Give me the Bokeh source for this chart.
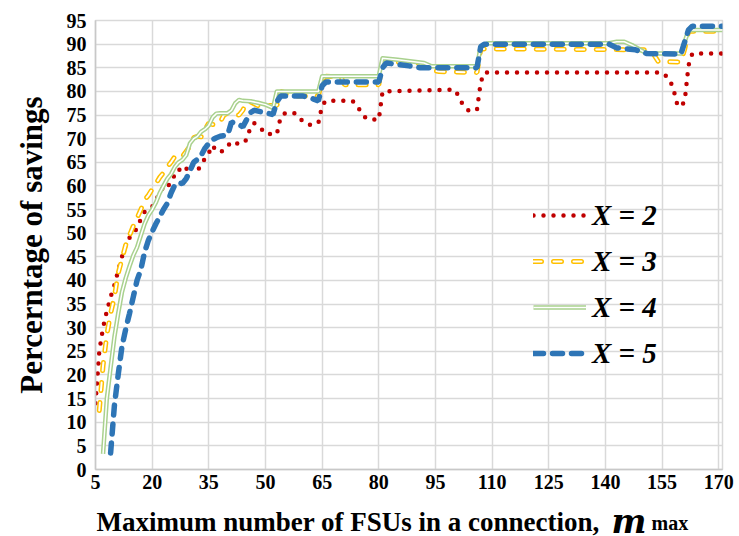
from bokeh.plotting import figure
from bokeh.layouts import column
from bokeh.models import Range1d, FixedTicker, Legend, LegendItem
from bokeh.core.properties import value
from bokeh.embed import file_html
from bokeh.resources import INLINE

# ---- data ----
x_ticks = [5, 20, 35, 50, 65, 80, 95, 110, 125, 140, 155, 170]
y_ticks = list(range(0, 100, 5))

x2 = [5, 6, 7, 8, 9, 10, 11, 12, 13, 14, 15, 16, 17, 18, 19, 20, 21, 22, 23, 24, 25, 26, 27, 28, 29, 30,
      31, 32, 33, 34, 35, 36, 37, 38, 39, 40, 41, 42, 43, 44, 45, 46, 47, 48, 49, 50, 53, 54, 55, 56, 58,
      59, 60, 61, 62, 64, 65, 66, 73, 74, 75, 76, 77, 80, 81, 100, 101, 102, 103, 104, 106, 107, 108,
      155, 156, 157, 158, 159, 160, 161, 162, 163, 171]
y2 = [14, 25, 30, 33.5, 36.5, 39, 42, 45, 47.5, 49, 50, 51, 53, 54.5, 55.2, 55.6, 57, 58.5, 59.8, 59.5,
      61.2, 62.3, 63.6, 62.8, 63.5, 64.9, 64.4, 63.3, 64.3, 65.9, 67, 68.6, 67.3, 67.2, 67.5, 68.4, 69.4,
      69.2, 68.8, 69, 69.8, 72.3, 73.3, 72.7, 72, 71, 70.9, 74.5, 75.3, 75.6, 75.3, 74.5, 73.5, 73.1, 72.9,
      73.3, 77, 78, 78, 77.3, 76, 74.8, 74.1, 74, 80, 80.4, 79.2, 77.6, 76.5, 75.8, 76.1, 82, 84,
      84, 83.3, 82.5, 80.5, 77.3, 76.7, 78, 85.5, 88, 88]

x3 = [6, 7, 8, 9, 10, 11, 12, 13, 14, 15, 16, 17, 18, 19, 20, 21, 22, 23, 24, 25, 26, 27, 28, 29, 30,
      31, 32, 33, 34, 35, 36, 37, 38, 39, 40, 41, 42, 43, 44, 45, 46, 47, 48, 53, 54, 55, 56, 64, 65, 66,
      70, 71, 80, 81, 90, 92, 94, 96, 106, 107, 152, 154, 160, 161, 162, 171]
y3 = [12.5, 22, 28.5, 33, 36.5, 41.5, 44.5, 47.5, 49.5, 51.5, 53.2, 55, 57, 58, 59.3, 60.5, 61.8, 62.8,
      64, 65, 66.2, 66.6, 66.2, 67.3, 68.4, 70.2, 70.5, 70.4, 72, 73.3, 73, 72.8, 73.5, 75, 75.4, 75.2, 75,
      75, 76, 77.8, 77.8, 77.4, 77, 77, 80, 79.8, 79, 79, 82.5, 83.2, 83, 81.4, 81.4, 86.3, 86, 85.6, 84.5,
      84.2, 84, 89, 88.8, 86.3, 86.2, 89, 92.7, 92.7]

x4 = [7, 8, 9, 10, 11, 12, 13, 14, 15, 16, 17, 18, 19, 20, 21, 22, 23, 24, 25, 26, 27, 28, 29, 30, 31,
      32, 33, 34, 35, 36, 37, 38, 40, 41, 42, 43, 44, 46, 48, 50, 52, 53, 64, 65, 80, 81, 85, 92, 94, 106,
      107, 109, 141, 143, 145, 147, 151, 160, 162, 171]
y4 = [3.3, 15, 21.6, 28, 33, 37.5, 40.5, 43, 45.3, 47, 49.5, 52, 53.8, 55, 56.5, 58.5, 60, 61.5, 62.5,
      64, 65, 65.5, 66.5, 69, 70, 70.5, 71.5, 72, 72.8, 74.5, 75.3, 75.4, 75.4, 76, 77.5, 78.2, 78, 77.9,
      77.6, 77.2, 76.5, 80, 80, 83.2, 83.2, 87, 86.7, 86, 85.3, 85.3, 89.5, 90.2, 90.2, 90.5, 90.5, 89.8,
      88, 88, 93, 93]

x5 = [9, 10, 11, 12, 13, 14, 15, 16, 17, 18, 19, 20, 21, 22, 23, 24, 25, 26, 27, 28, 29, 30, 31, 32, 33,
      34, 35, 36, 37, 38, 40, 41, 43, 44, 45, 46, 47, 50, 52, 53, 54, 60, 62, 64, 65, 66, 80, 81, 82, 84,
      88, 91, 106, 107, 108, 141, 143, 148, 151, 160, 161, 162, 163, 171]
y5 = [3.5, 13.5, 20, 26, 29.7, 33, 36.5, 40, 42.3, 46, 48.5, 50.3, 52, 53.5, 55, 56.3, 58.5, 60.2, 60.7,
      60.5, 61.5, 63.2, 65, 65.6, 66.5, 68, 69, 69.8, 70.2, 70.5, 70.8, 73.5, 73, 72.5, 74, 75.5, 76, 75.5,
      75.1, 77.8, 79, 79, 78.6, 78, 81.2, 82, 82, 85, 86, 85.8, 85.4, 85, 85, 89.5, 90, 90, 89.2, 88.8, 88,
      87.9, 90.5, 93, 93.8, 93.8]

labels = ["X = 2", "X = 3", "X = 4", "X = 5"]
x_title = ["Maximum number of FSUs in a connection,", "m", "max"]

FONT = "Liberation Serif"

p = figure(width=739, height=498, output_backend="svg", toolbar_location=None,
           x_range=Range1d(5, 171), y_range=Range1d(0, 95),
           min_border_left=95, min_border_right=17, min_border_top=20, min_border_bottom=29)

p.outline_line_color = "#d9d9d9"
p.outline_line_width = 1.5

p.xaxis.ticker = FixedTicker(ticks=x_ticks)
p.yaxis.ticker = FixedTicker(ticks=y_ticks)
p.xgrid.ticker = FixedTicker(ticks=x_ticks)
p.ygrid.ticker = FixedTicker(ticks=y_ticks)
p.grid.grid_line_color = "#d9d9d9"
p.grid.grid_line_width = 1.5

for ax in (p.xaxis, p.yaxis):
    ax.major_label_text_font = FONT
    ax.major_label_text_font_style = "bold"
    ax.major_label_text_font_size = "20px"
    ax.major_label_text_color = "black"
    ax.major_tick_line_color = None
    ax.major_tick_out = 0
    ax.major_tick_in = 0
    ax.minor_tick_line_color = None
    ax.minor_tick_out = 0
    ax.axis_line_color = "#c8c8c8"
    ax.axis_line_width = 1.5

p.xaxis.major_label_standoff = 5
p.yaxis.major_label_standoff = 9

p.yaxis.axis_label = "Percerntage of savings"
p.yaxis.axis_label_text_font = FONT
p.yaxis.axis_label_text_font_style = "bold"
p.yaxis.axis_label_text_font_size = "31px"
p.yaxis.axis_label_text_color = "black"
p.yaxis.axis_label_standoff = 15

r2 = p.line(x2, y2, line_color="#c00000", line_width=4.5, line_dash="0 10", line_cap="round")
r3o = p.line(x3, y3, line_color="#ffc000", line_width=5, line_dash="8 12", line_cap="round")
r3i = p.line(x3, y3, line_color="white", line_width=2, line_dash="8 12", line_cap="round")
r4o = p.line(x4, y4, line_color="#a9d18e", line_width=4.5, line_join="round")
r4i = p.line(x4, y4, line_color="white", line_width=1.5, line_join="round")
r5 = p.line(x5, y5, line_color="#2e75b6", line_width=5.5, line_dash="10 9", line_cap="round")

legend = Legend(items=[
    LegendItem(label=labels[0], renderers=[r2]),
    LegendItem(label=labels[1], renderers=[r3o, r3i]),
    LegendItem(label=labels[2], renderers=[r4o, r4i]),
    LegendItem(label=labels[3], renderers=[r5]),
], location=(438, 96), glyph_width=53, glyph_height=40, label_height=40, spacing=6,
    padding=0, margin=0, label_standoff=6, background_fill_alpha=0, border_line_alpha=0,
    label_text_font=FONT, label_text_font_style="bold italic", label_text_font_size="29px",
    label_text_color="black")
p.add_layout(legend)

# ---- x-axis title strip (mixed styles); its frame is aligned with the main frame (95..722 px) ----
t = figure(width=739, height=38, output_backend="svg", toolbar_location=None, title=None,
           x_range=Range1d(95, 722), y_range=Range1d(0, 38),
           min_border_left=95, min_border_right=17, min_border_top=0, min_border_bottom=0,
           x_axis_type=None, y_axis_type=None)
t.outline_line_color = None
t.grid.visible = False
t.text(x=[96], y=[15], text=[x_title[0]], text_font=value(FONT), text_font_style="bold",
       text_font_size="27px", text_color="black", text_baseline="alphabetic")
t.text(x=[611], y=[15], text=[x_title[1]], text_font=value("DejaVu Serif"),
       text_font_style="bold italic", text_font_size="33px", text_color="black",
       text_baseline="alphabetic")
t.text(x=[651], y=[14], text=[x_title[2]], text_font=value(FONT), text_font_style="bold",
       text_font_size="20px", text_color="black", text_baseline="alphabetic")

layout = column(p, t, spacing=0)
open("out.html", "w").write(file_html(layout, INLINE))
